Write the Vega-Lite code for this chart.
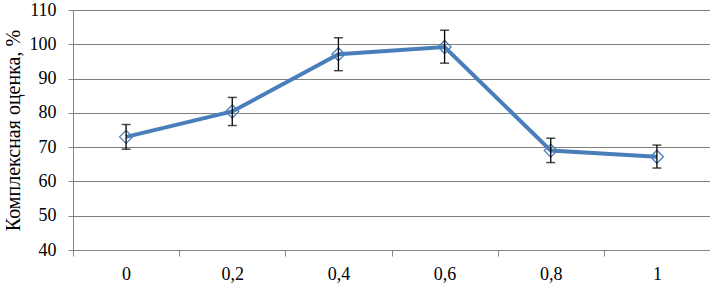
{
  "$schema": "https://vega.github.io/schema/vega-lite/v6.json",
  "autosize": {"type": "none"},
  "width": 637,
  "height": 240,
  "padding": {"left": 73, "top": 10, "right": 0, "bottom": 35},
  "background": "white",
  "config": {"view": {"stroke": null}},
  "data": {
    "values": [
      {"x": "0", "y": 73.0, "lo": 69.4, "hi": 76.6},
      {"x": "0,2", "y": 80.4, "lo": 76.3, "hi": 84.5},
      {"x": "0,4", "y": 97.1, "lo": 92.3, "hi": 101.9},
      {"x": "0,6", "y": 99.2, "lo": 94.5, "hi": 104.1},
      {"x": "0,8", "y": 69.0, "lo": 65.5, "hi": 72.6},
      {"x": "1", "y": 67.2, "lo": 63.9, "hi": 70.6}
    ]
  },
  "encoding": {
    "x": {
      "field": "x",
      "type": "ordinal",
      "sort": null,
      "scale": {"type": "band", "paddingInner": 0, "paddingOuter": 0},
      "axis": {
        "title": null,
        "labelAngle": 0,
        "tickBand": "extent",
        "tickSize": 6,
        "labelPadding": 9,
        "grid": false,
        "labelFont": "Liberation Serif",
        "labelFontSize": 18,
        "labelColor": "#000000",
        "labelOverlap": false,
        "domainColor": "#868686",
        "tickColor": "#868686"
      }
    },
    "y": {
      "field": "y",
      "type": "quantitative",
      "scale": {"domain": [40, 110], "nice": false, "zero": false},
      "axis": {
        "title": "Комплексная оценка, %",
        "values": [40, 50, 60, 70, 80, 90, 100, 110],
        "grid": true,
        "gridColor": "#808080",
        "gridOpacity": 1,
        "tickSize": 5,
        "labelPadding": 12,
        "titlePadding": 6,
        "labelFont": "Liberation Serif",
        "labelFontSize": 18,
        "labelColor": "#000000",
        "labelOverlap": false,
        "titleFont": "Liberation Serif",
        "titleFontSize": 20,
        "titleFontWeight": "normal",
        "titleColor": "#000000",
        "domainColor": "#868686",
        "tickColor": "#868686"
      }
    }
  },
  "layer": [
    {
      "mark": {"type": "line", "color": "#4a7ebb", "strokeWidth": 4}
    },
    {
      "mark": {"type": "point", "shape": "diamond", "size": 170, "filled": false, "stroke": "#4a7ebb", "strokeWidth": 1.3, "opacity": 1}
    },
    {
      "mark": {"type": "rule", "color": "#000000", "strokeWidth": 1.3},
      "encoding": {
        "y": {"field": "lo", "type": "quantitative"},
        "y2": {"field": "hi"}
      }
    },
    {
      "mark": {"type": "tick", "color": "#000000", "size": 9, "thickness": 1.5, "orient": "horizontal"},
      "encoding": {"y": {"field": "lo", "type": "quantitative"}}
    },
    {
      "mark": {"type": "tick", "color": "#000000", "size": 9, "thickness": 1.5, "orient": "horizontal"},
      "encoding": {"y": {"field": "hi", "type": "quantitative"}}
    }
  ]
}
